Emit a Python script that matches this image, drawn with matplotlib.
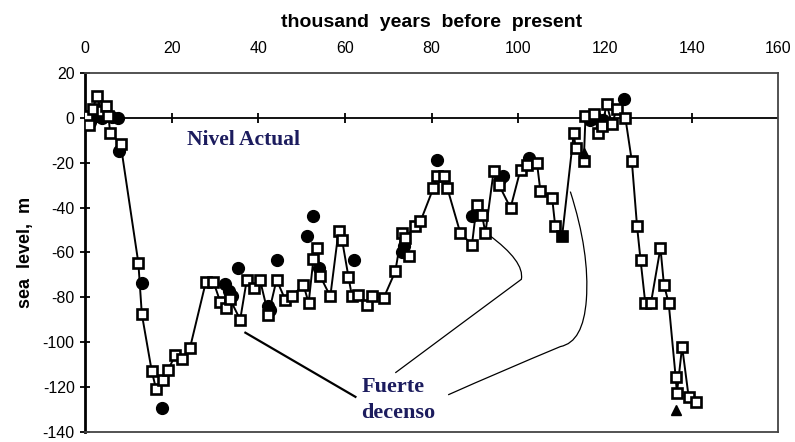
import numpy as np
import matplotlib
matplotlib.use("Agg")
import matplotlib.pyplot as plt
from matplotlib.path import Path
from matplotlib.patches import PathPatch

plt.rcParams['axes.unicode_minus'] = False

# open squares, joined by the line (ka BP, sea level m)
age = [0.4, 0.8, 1.8, 2.7, 3.8, 4.8, 5.4, 5.8, 8.2, 12.3, 13.1, 15.4, 16.4, 17.9,
       19.2, 20.8, 22.3, 24.2, 27.9, 29.6, 31.2, 32.5, 33.5, 35.8, 37.3, 39.0,
       40.4, 42.3, 44.2, 46.2, 47.7, 50.4, 51.6, 52.7, 53.5, 54.3, 56.6, 58.5,
       59.3, 60.8, 61.6, 63.1, 65.0, 66.2, 68.9, 71.6, 73.1, 74.7, 73.9, 76.2,
       77.4, 80.4, 81.2, 82.8, 83.6, 86.6, 89.3, 90.4, 91.6, 92.4, 94.3, 95.5,
       98.2, 100.5, 102.0, 104.3, 105.1, 107.8, 108.5, 110.1, 112.8, 113.2,
       115.1, 115.5, 117.4, 118.5, 119.3, 120.4, 121.6, 122.7, 124.7, 126.2,
       127.4, 128.2, 129.3, 130.6, 132.8, 133.6, 134.7, 136.3, 136.6, 137.8,
       139.3, 140.9]
level = [0.7, -3, 4, 9.6, 3, 5.2, 0.7, -6.7, -11.6, -64.7, -87.5, -113, -121,
         -116.8, -112.4, -105.7, -107.5, -102.7, -73, -73, -82, -85, -81, -90,
         -72.5, -76, -72.5, -87.8, -72.2, -81.1, -79.6, -74.4, -82.6, -63, -58,
         -70.7, -79.6, -50.6, -54.3, -71, -79.6, -78.9, -83.3, -79.6, -80.4,
         -68.5, -51.3, -61.8, -53.5, -48.4, -46.2, -31.3, -26.1, -26.1, -31.3,
         -51.3, -56.6, -38.7, -43.2, -51.3, -23.8, -29.8, -40.2, -23.1, -21,
         -20.1, -32.8, -35.7, -48.1, -52.8, -6.7, -13.4, -19.4, 0.7, 1.5, -6.7,
         -3.7, 6, -2.7, 3.7, 0, -19.4, -48.4, -63.3, -82.6, -82.6, -58, -74.4,
         -82.6, -115.4, -122.8, -102, -124.3, -126.5]

# filled circles
dot_age = [0.2, 1.2, 2.5, 4.0, 6.2, 7.5, 7.9, 13.1, 17.7, 32.3, 33.2, 34.0, 35.4,
           42.3, 42.7, 44.2, 51.2, 52.7, 54.0, 62.0, 73.2, 73.5, 81.2, 89.3,
           95.8, 96.5, 102.4, 116.5, 118.0, 119.5, 124.3]
dot_level = [0, -2, 1, 0, 0.5, 0, -14.9, -73.7, -129.5, -74, -77, -79.5, -67,
             -84, -85.6, -63.3, -52.8, -43.9, -67, -63.3, -60, -57.3, -18.6,
             -43.9, -27.5, -26, -17.9, -1, 0, -1, 8.2]

# filled squares and triangles
fsq_age = [110.1]
fsq_level = [-52.8]
tri_age = [115.1, 136.3]
tri_level = [-15.6, -130.2]

xticks = [0, 20, 40, 60, 80, 100, 120, 140, 160]
yticks = [20, 0, -20, -40, -60, -80, -100, -120, -140]

fig = plt.figure(figsize=(7.95, 4.42), dpi=100)
ax = fig.add_axes([0.107, 0.023, 0.872, 0.812])
ax.set_xlim(0, 160)
ax.set_ylim(-140, 20)

ax.axhline(0, color='black', lw=1.3, zorder=1)
ax.plot(xticks[1:-1], [0] * (len(xticks) - 2), ls='none', marker='|',
        ms=7, mew=1.3, color='black', zorder=1)

ax.plot(age, level, color='black', lw=1.4, zorder=2)
ax.plot(dot_age, dot_level, ls='none', marker='o', ms=8.5, color='black', zorder=3)
ax.plot(age, level, ls='none', marker='s', ms=7, mfc='white', mec='black',
        mew=1.9, zorder=4)
ax.plot(fsq_age, fsq_level, ls='none', marker='s', ms=7, color='black', zorder=5)
ax.plot(tri_age, tri_level, ls='none', marker='^', ms=7.5, color='black', zorder=5)

ax.xaxis.tick_top()
ax.set_xticks(xticks)
ax.set_yticks(yticks)
ax.tick_params(axis='x', length=0, pad=12, labelsize=11.5)
ax.tick_params(axis='y', direction='inout', length=7, width=1.3, labelsize=11.5, pad=4)
for lab in ax.get_xticklabels() + ax.get_yticklabels():
    lab.set_family('Liberation Sans')
for s in ax.spines.values():
    s.set_linewidth(1.3)
ax.spines['left'].set_linewidth(2)
ax.spines['top'].set_color('#444444')
ax.spines['right'].set_color('#444444')
ax.spines['bottom'].set_color('#444444')

ax.set_xlabel('thousand  years  before  present', fontsize=14, fontweight='bold',
              family='Liberation Sans', labelpad=10)
ax.xaxis.set_label_position('top')
ax.set_ylabel('sea  level,  m', fontsize=13, fontweight='bold',
              family='Liberation Sans', labelpad=6)

navy = '#1c1c5e'
ax.text(36.5, -10, 'Nivel Actual', color=navy, fontsize=15.5, fontweight='bold',
        family='Liberation Serif', ha='center', va='center')
ax.text(71.1, -120, 'Fuerte', color=navy, fontsize=16, fontweight='bold',
        family='Liberation Serif', ha='center', va='center')
ax.text(72.3, -131.6, 'decenso', color=navy, fontsize=16, fontweight='bold',
        family='Liberation Serif', ha='center', va='center')

# annotation leader lines
ax.plot([37, 62.4], [-95.8, -124.4], color='black', lw=1.6)
p2 = Path([(93.1, -52.1), (101.5, -64), (100.7, -72), (86, -93), (71.6, -113.7)],
          [Path.MOVETO, Path.CURVE3, Path.CURVE3, Path.CURVE3, Path.CURVE3])
ax.add_patch(PathPatch(p2, fc='none', ec='black', lw=0.9))
p3 = Path([(112, -32.9), (116.5, -60), (115.7, -81.1), (115, -100), (109.7, -102),
           (96, -113), (83.8, -123.5)],
          [Path.MOVETO, Path.CURVE3, Path.CURVE3, Path.CURVE3, Path.CURVE3,
           Path.CURVE3, Path.CURVE3])
ax.add_patch(PathPatch(p3, fc='none', ec='black', lw=0.9))

fig.savefig('out.png', dpi=100)
